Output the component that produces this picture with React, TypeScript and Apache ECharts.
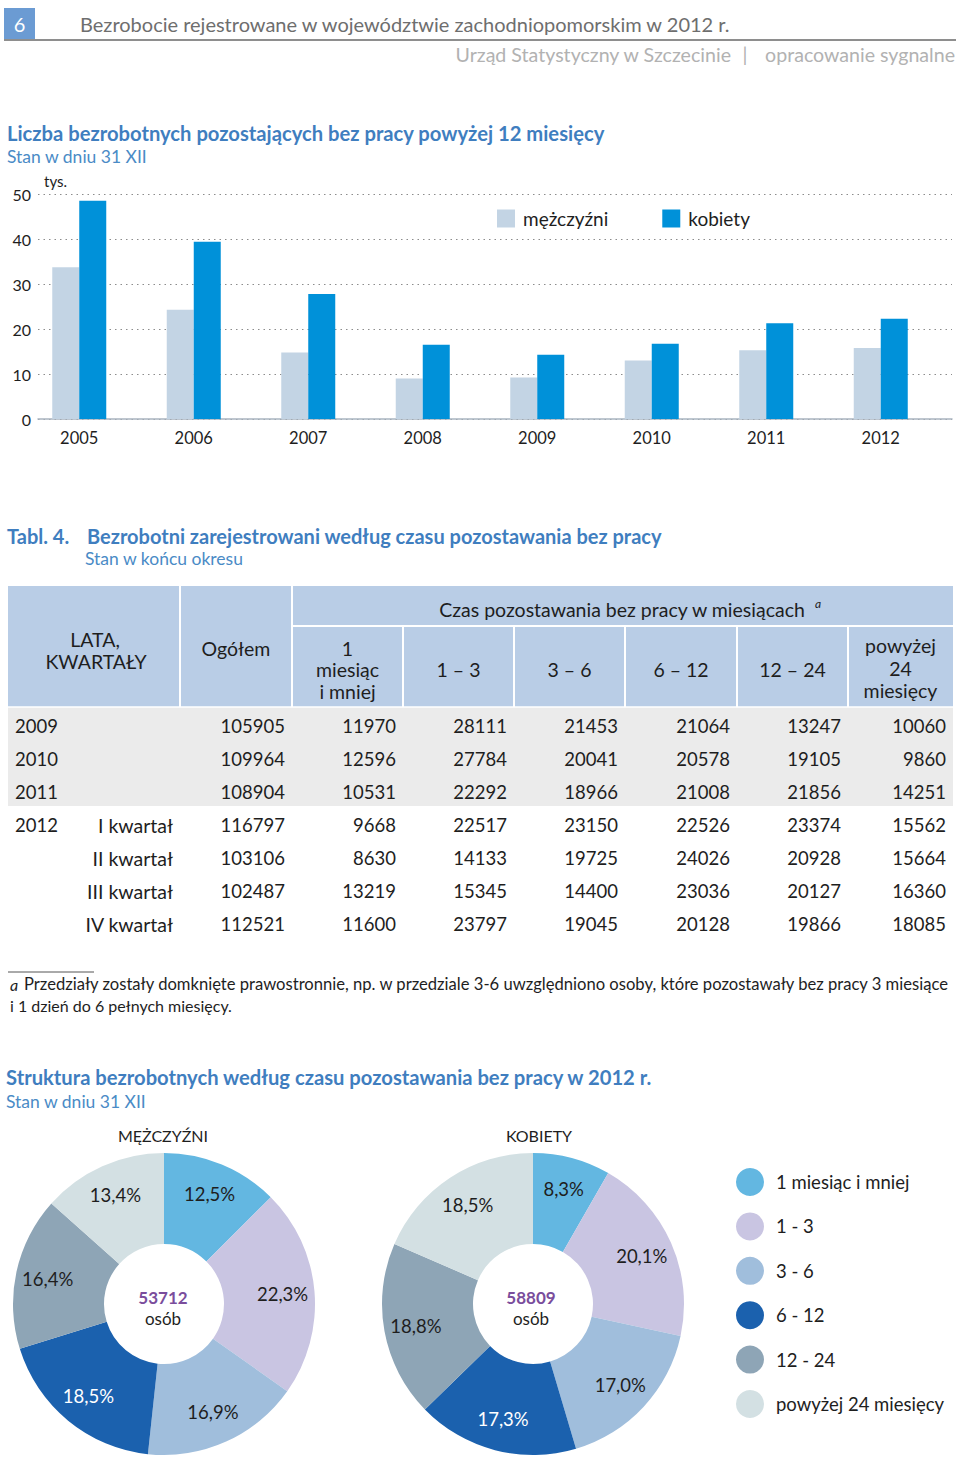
import React, { useEffect, useRef } from "react";
import * as echarts from "echarts";

// ---------- DATA ----------
const years = ["2005", "2006", "2007", "2008", "2009", "2010", "2011", "2012"];
const menLongTerm = [33.7, 24.3, 14.8, 9.0, 9.2, 13.0, 15.3, 15.8];
const womenLongTerm = [48.5, 39.4, 27.8, 16.5, 14.3, 16.7, 21.3, 22.3];
const barSeriesNames = ["mężczyźni", "kobiety"];

const tableRowYears = ["2009", "2010", "2011", "2012", "", "", ""];
const tableRowQuarters = ["", "", "", "I kwartał", "II kwartał", "III kwartał", "IV kwartał"];
const colTotal = [105905, 109964, 108904, 116797, 103106, 102487, 112521];
const col1m = [11970, 12596, 10531, 9668, 8630, 13219, 11600];
const col1to3 = [28111, 27784, 22292, 22517, 14133, 15345, 23797];
const col3to6 = [21453, 20041, 18966, 23150, 19725, 14400, 19045];
const col6to12 = [21064, 20578, 21008, 22526, 24026, 23036, 20128];
const col12to24 = [13247, 19105, 21856, 23374, 20928, 20127, 19866];
const colOver24 = [10060, 9860, 14251, 15562, 15664, 16360, 18085];
const headerDurations = [
  ["1", "miesiąc", "i mniej"],
  ["1 – 3"],
  ["3 – 6"],
  ["6 – 12"],
  ["12 – 24"],
  ["powyżej", "24", "miesięcy"],
];

const durationNames = ["1 miesiąc i mniej", "1 - 3", "3 - 6", "6 - 12", "12 - 24", "powyżej 24 miesięcy"];
const menShares = [12.5, 22.3, 16.9, 18.5, 16.4, 13.4];
const womenShares = [8.3, 20.1, 17.0, 17.3, 18.8, 18.5];
const menTotal = 53712;
const womenTotal = 58809;

// ---------- STYLE ----------
const F = "Lato, 'Open Sans', sans-serif";
const TITLE_BLUE = "#3f7ebf";
const SUB_BLUE = "#4a8bc6";
const DARK = "#1e1e1e";
const pieColors = ["#63b7e1", "#c9c5e2", "#a0bedc", "#1b61ae", "#8ea5b6", "#d3e0e3"];

function txt(
  text: string,
  x: number,
  y: number,
  o: { size?: number; color?: string; weight?: string; align?: string; style?: string } = {}
) {
  return {
    type: "text",
    x,
    y,
    silent: true,
    style: {
      text,
      fill: o.color || DARK,
      fontSize: o.size || 18,
      fontFamily: F,
      fontWeight: o.weight || "normal",
      fontStyle: o.style || "normal",
      textAlign: o.align || "left",
      textVerticalAlign: "middle",
      align: o.align || "left",
      verticalAlign: "middle",
    },
  };
}

function rect(x: number, y: number, w: number, h: number, fill: string) {
  return { type: "rect", silent: true, shape: { x, y, width: w, height: h }, style: { fill } };
}

function line(x1: number, y1: number, x2: number, y2: number, stroke: string, lw: number) {
  return { type: "line", silent: true, shape: { x1, y1, x2, y2 }, style: { stroke, lineWidth: lw } };
}

const fmtPct = (v: number) => v.toFixed(1).replace(".", ",") + "%";

function buildGraphics() {
  const g: any[] = [];
  // page header
  g.push(rect(4, 8, 31, 31, "#6b9bd3"));
  g.push(txt("6", 19.5, 24, { size: 20, color: "#ffffff", align: "center" }));
  g.push(line(4, 40, 956, 40, "#8e8e8e", 2));
  g.push(txt("Bezrobocie rejestrowane w województwie zachodniopomorskim w 2012 r.", 80, 24, { size: 20, color: "#6e6e6e" }));
  g.push(txt("opracowanie sygnalne", 955, 54, { size: 19.6, color: "#b2b2b2", align: "right" }));
  g.push(txt("|", 745, 54, { size: 19.6, color: "#b2b2b2", align: "center" }));
  g.push(txt("Urząd Statystyczny w Szczecinie", 731, 54, { size: 19.6, color: "#b2b2b2", align: "right" }));

  // bar chart titles
  g.push(txt("Liczba bezrobotnych pozostających bez pracy powyżej 12 miesięcy", 7, 133, { size: 20.2, color: TITLE_BLUE, weight: "bold" }));
  g.push(txt("Stan w dniu 31 XII", 7, 156, { size: 17.5, color: SUB_BLUE }));
  g.push(txt("tys.", 44, 181, { size: 15, color: DARK }));

  // table titles
  g.push(txt("Tabl. 4.", 7, 536, { size: 20, color: TITLE_BLUE, weight: "bold" }));
  g.push(txt("Bezrobotni zarejestrowani według czasu pozostawania bez pracy", 87, 536, { size: 20, color: TITLE_BLUE, weight: "bold" }));
  g.push(txt("Stan w końcu okresu", 85, 558, { size: 17.5, color: SUB_BLUE }));

  // table header
  const edges = [8, 180, 292, 403, 514, 625, 737, 848, 953];
  g.push(rect(8, 586, 945, 121, "#b9cde6"));
  g.push(rect(8, 707, 945, 99, "#ebebeb"));
  g.push(line(180, 586, 180, 707, "#ffffff", 2));
  g.push(line(292, 586, 292, 707, "#ffffff", 2));
  g.push(line(292, 626, 953, 626, "#ffffff", 2));
  for (let i = 3; i < edges.length - 1; i++) g.push(line(edges[i], 626, edges[i], 707, "#ffffff", 2));
  g.push(line(8, 707, 953, 707, "#ffffff", 1.5));
  const HS = 18.5;
  const HT = 19.5;
  g.push(txt("LATA,", 95, 639, { size: HT, align: "center" }));
  g.push(txt("KWARTAŁY", 96, 661, { size: HT, align: "center" }));
  g.push(txt("Ogółem", 236, 648, { size: HT, align: "center" }));
  g.push(txt("Czas pozostawania bez pracy w miesiącach", 622, 609, { size: HT, align: "center" }));
  g.push(txt("a", 815, 603, { size: 12, style: "italic" }));
  headerDurations.forEach((lines, i) => {
    const cx = (edges[i + 2] + edges[i + 3]) / 2;
    if (lines.length === 1) {
      g.push(txt(lines[0], cx, 669, { size: HT, align: "center" }));
    } else {
      const ys = i === 0 ? [648, 669, 691] : [645, 668, 690];
      lines.forEach((l, k) => g.push(txt(l, cx, ys[k], { size: HT, align: "center" })));
    }
  });
  // table body
  const cols = [colTotal, col1m, col1to3, col3to6, col6to12, col12to24, colOver24];
  for (let r = 0; r < colTotal.length; r++) {
    const y = 726 + 33 * r;
    if (tableRowYears[r]) g.push(txt(tableRowYears[r], 15, y, { size: HS }));
    if (tableRowQuarters[r]) g.push(txt(tableRowQuarters[r], 173, y, { size: HT, align: "right" }));
    cols.forEach((col, c) => {
      g.push(txt(String(col[r]), edges[c + 2] - 7, y, { size: HS, align: "right" }));
    });
  }
  // footnote
  g.push(line(8, 972, 94, 972, "#555555", 1));
  g.push(txt("a", 10, 984, { size: 16, style: "italic" }));
  g.push(
    txt(
      "Przedziały zostały domknięte prawostronnie, np. w przedziale 3-6 uwzględniono osoby, które pozostawały bez pracy 3 miesiące",
      24,
      984,
      { size: 16.6 }
    )
  );
  g.push(txt("i 1 dzień do 6 pełnych miesięcy.", 10, 1005, { size: 16 }));

  // pie section titles
  g.push(txt("Struktura bezrobotnych według czasu pozostawania bez pracy w 2012 r.", 6, 1077, { size: 20.2, color: TITLE_BLUE, weight: "bold" }));
  g.push(txt("Stan w dniu 31 XII", 6, 1101, { size: 17.5, color: SUB_BLUE }));
  g.push(txt("MĘŻCZYŹNI", 163, 1135, { size: 16, align: "center" }));
  g.push(txt("KOBIETY", 539, 1135, { size: 16, align: "center" }));
  g.push(txt(String(menTotal), 163, 1297, { size: 17, weight: "bold", color: "#7a4d9c", align: "center" }));
  g.push(txt("osób", 163, 1318, { size: 17, align: "center" }));
  g.push(txt(String(womenTotal), 531, 1297, { size: 17, weight: "bold", color: "#7a4d9c", align: "center" }));
  g.push(txt("osób", 531, 1318, { size: 17, align: "center" }));
  return g;
}

function pieSeries(shares: number[], center: number[]) {
  return [
    {
      type: "pie",
      center,
      radius: [60, 151],
      startAngle: 90,
      silent: true,
      label: { show: false },
      labelLine: { show: false },
      data: durationNames.map((n, i) => ({ name: n, value: shares[i], itemStyle: { color: pieColors[i] } })),
    },
    {
      type: "pie",
      center,
      radius: [82, 150],
      startAngle: 90,
      silent: true,
      labelLine: { show: false },
      label: {
        show: true,
        position: "inside",
        fontSize: 18.5,
        fontFamily: F,
        formatter: (p: any) => fmtPct(p.value),
      },
      itemStyle: { color: "rgba(0,0,0,0)" },
      data: durationNames.map((n, i) => ({
        name: n,
        value: shares[i],
        itemStyle: { color: "rgba(0,0,0,0)" },
        label: { color: i === 3 ? "#ffffff" : DARK },
      })),
    },
  ];
}

export default function App() {
  const ref = useRef<HTMLDivElement>(null);
  useEffect(() => {
    if (!ref.current) return;
    const chart = echarts.init(ref.current, null, { renderer: "svg" });
    const option: any = {
      animation: false,
      backgroundColor: "#ffffff",
      textStyle: { fontFamily: F },
      grid: [
        { left: 38, top: 194, width: 914, height: 225 },
        { left: 22, top: 194, width: 916, height: 225 },
      ],
      xAxis: [
        {
          gridIndex: 0,
          type: "category",
          data: [""],
          axisLine: { show: true, lineStyle: { color: "#a9b4c0", width: 1.5 } },
          axisTick: { show: false },
          axisLabel: { show: false },
        },
        {
          gridIndex: 1,
          type: "category",
          data: years,
          axisLine: { show: false },
          axisTick: { show: false },
          axisLabel: { fontSize: 16.5, color: DARK, margin: 10, fontFamily: F },
        },
      ],
      yAxis: [
        {
          gridIndex: 0,
          type: "value",
          min: 0,
          max: 50,
          interval: 10,
          axisLine: { show: false },
          axisTick: { show: false },
          axisLabel: { fontSize: 16, color: DARK, margin: 7, fontFamily: F },
          splitLine: { show: true, lineStyle: { type: [1.5, 4], color: "#8c8c8c", width: 1 } },
        },
        { gridIndex: 1, type: "value", min: 0, max: 50, interval: 10, show: false },
      ],
      legend: [
        {
          data: barSeriesNames,
          left: 492,
          top: 204,
          icon: "rect",
          itemWidth: 18,
          itemHeight: 18,
          itemGap: 54,
          selectedMode: false,
          textStyle: { fontSize: 19, color: DARK, fontFamily: F, padding: [0, 0, 0, 3] },
        },
        {
          data: durationNames.map((n, i) => ({ name: n, itemStyle: { color: pieColors[i] } })),
          orient: "vertical",
          left: 731,
          top: 1163,
          icon: "circle",
          itemWidth: 28,
          itemHeight: 28,
          itemGap: 16.4,
          selectedMode: false,
          textStyle: { fontSize: 18.5, color: DARK, fontFamily: F, padding: [0, 0, 0, 7] },
        },
      ],
      series: [
        {
          type: "bar",
          name: barSeriesNames[0],
          xAxisIndex: 1,
          yAxisIndex: 1,
          data: menLongTerm,
          barWidth: 27,
          barGap: "0%",
          itemStyle: { color: "#c3d4e4" },
        },
        {
          type: "bar",
          name: barSeriesNames[1],
          xAxisIndex: 1,
          yAxisIndex: 1,
          data: womenLongTerm,
          barWidth: 27,
          barGap: "0%",
          itemStyle: { color: "#0091d9" },
        },
        ...pieSeries(menShares, [164, 1304]),
        ...pieSeries(womenShares, [533, 1304]),
      ],
      graphic: buildGraphics(),
    };
    chart.setOption(option);
    return () => chart.dispose();
  }, []);
  return (
    <div
      ref={ref}
      style={{ position: "absolute", left: 0, top: 0, width: 960, height: 1458, background: "#ffffff" }}
    />
  );
}
